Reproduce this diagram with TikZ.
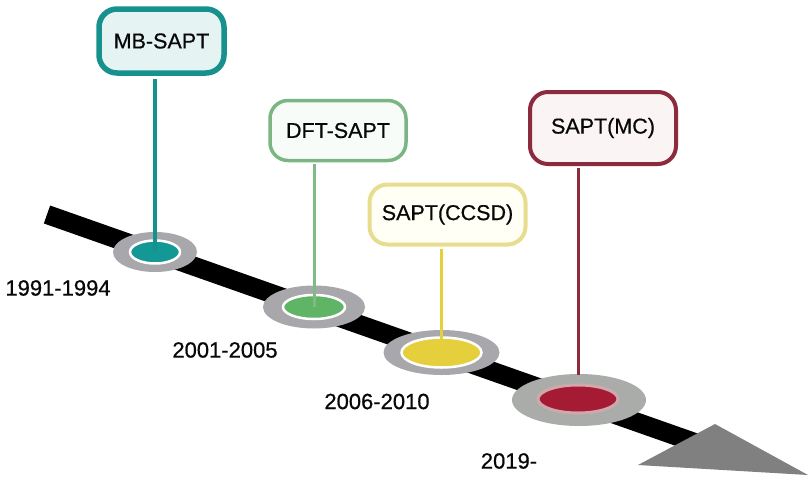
\documentclass[tikz,border=0pt]{standalone}
\usepackage{fontspec}
\setmainfont{Liberation Sans}
\newfontfamily\lblfont{Liberation Sans}[FakeBold=0.6]
\definecolor{tealc}{HTML}{17918E}
\definecolor{tealfill}{HTML}{E5F4F3}
\definecolor{tealin}{HTML}{149896}
\definecolor{greenc}{HTML}{7BB583}
\definecolor{greenfill}{HTML}{F8FCF8}
\definecolor{greenin}{HTML}{5FB466}
\definecolor{greenln}{HTML}{7FBC85}
\definecolor{yellowc}{HTML}{E8DC8E}
\definecolor{yellowfill}{HTML}{FFFFF5}
\definecolor{yellowin}{HTML}{E6CF3C}
\definecolor{yellowln}{HTML}{E3D03A}
\definecolor{crimc}{HTML}{8C2B3D}
\definecolor{crimfill}{HTML}{FBF4F5}
\definecolor{crimin}{HTML}{A51B34}
\definecolor{crimring}{HTML}{D0A8AC}
\definecolor{ringgray}{HTML}{A8A8AC}
\definecolor{ringgraytwo}{HTML}{A9ACA9}
\definecolor{headgray}{HTML}{808080}
\definecolor{txt}{HTML}{080808}
\begin{document}
\begin{tikzpicture}[x=1pt,y=-1pt,
  labelbox/.style={rounded corners=18pt, align=center, inner sep=0pt, text=txt,
    font=\lblfont\fontsize{21.5}{26}\selectfont},
  yearlbl/.style={inner sep=0pt, text=txt, font=\lblfont\fontsize{22}{26}\selectfont},
  outerring/.style={fill=ringgray},
]
\useasboundingbox (0,0) rectangle (809,477);
% timeline band and arrowhead
\coordinate (bandstart) at (47,214.5);
\coordinate (bandend) at (720,451.4);
\draw[line width=19pt, black] (bandstart) -- (bandend);
\fill[headgray] (715,424) -- (808,475) -- (638,465) -- cycle;

% ellipses
\coordinate (e1) at (155,252);
\coordinate (e2) at (314,307);
\coordinate (e3) at (441.5,352.5);
\coordinate (e4) at (579,400);
\coordinate (e4top) at (578,375);
\fill[outerring] (e1) ellipse [x radius=42, y radius=20];
\filldraw[fill=tealin, draw=white, line width=2.5pt] (e1) ellipse [x radius=25, y radius=11.5];
\fill[outerring] (e2) ellipse [x radius=51, y radius=21.5];
\filldraw[fill=greenin, draw=white, line width=2.5pt] (e2) ellipse [x radius=31, y radius=12];
\fill[outerring] (e3) ellipse [x radius=58, y radius=22.5];
\filldraw[fill=yellowin, draw=white, line width=2.5pt] (e3) ellipse [x radius=40, y radius=15];
\fill[ringgraytwo] (e4) ellipse [x radius=67, y radius=26];
\filldraw[fill=crimin, draw=crimring, line width=3pt] (578,399) ellipse [x radius=40, y radius=14];

% boxes
\node[labelbox, draw=tealc, fill=tealfill, line width=5.5pt, minimum width=125pt, minimum height=64pt] (b1) at (161.5,41) {MB-SAPT};
\node[labelbox, draw=greenc, fill=greenfill, line width=3.5pt, minimum width=136pt, minimum height=60pt] (b2) at (338,130.5) {DFT-SAPT};
\node[labelbox, draw=yellowc, fill=yellowfill, line width=4pt, minimum width=156pt, minimum height=60pt] (b3) at (447.5,214.5) {SAPT(CCSD)};
\node[labelbox, draw=crimc, fill=crimfill, line width=4pt, minimum width=146pt, minimum height=72pt] (b4) at (603,128) {SAPT(MC)};

% connectors
\draw[tealc, line width=4pt] ([yshift=-3pt]b1.south -| e1) -- (e1);
\draw[greenln, line width=3pt] ([yshift=-2pt]b2.south -| e2) -- (e2);
\draw[yellowln, line width=3pt] ([yshift=-2pt]b3.south -| e3) -- (e3);
\draw[crimc, line width=3pt] ([yshift=-2pt]b4.south -| e4top) -- (e4top);

% year labels
\node[yearlbl] (y1) at (58,288) {1991-1994};
\node[yearlbl] (y2) at (225,350) {2001-2005};
\node[yearlbl] (y3) at (377,401.5) {2006-2010};
\node[yearlbl] (y4) at (509,461) {2019-};
\end{tikzpicture}
\end{document}
